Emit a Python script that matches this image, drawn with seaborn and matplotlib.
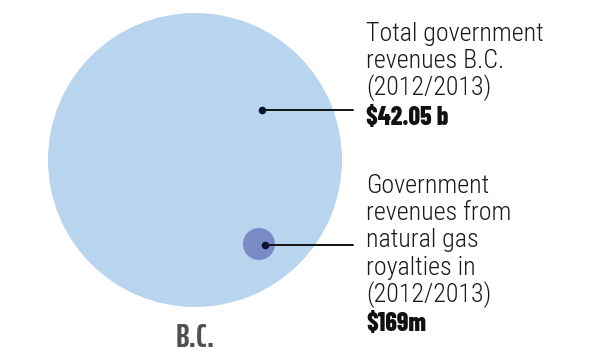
import numpy as np
import pandas as pd
import matplotlib
matplotlib.use("Agg")
import matplotlib.pyplot as plt
from matplotlib import font_manager as fm
import seaborn as sns

# data
region = "B.C."
series = ["Total government revenues", "Natural gas royalties"]
values_musd = [42050, 169]  # millions of dollars
value_labels = ["$42.05 b", "$169m"]
desc_lines = [
    ["Total government", "revenues B.C.", "(2012/2013)"],
    ["Government", "revenues from", "natural gas", "royalties in", "(2012/2013)"],
]

sns.set_theme(style="white")
names = {f.name for f in fm.fontManager.ttflist}


def pick(cands):
    for c in cands:
        if c in names:
            return c
    return "DejaVu Sans"


reg_font = pick(["Roboto Condensed", "Fira Sans Condensed", "Barlow Condensed", "IBM Plex Sans Condensed"])
bold_font = pick(["Barlow Condensed", "Fira Sans Extra Condensed", "Roboto Condensed"])
label_font = pick(["Saira ExtraCondensed", "Barlow Condensed", "Fira Sans Extra Condensed"])
plt.rcParams["font.family"] = [reg_font, "DejaVu Sans"]

# layout in pixel units (axes spans the whole figure)
cx = [195, 259]
cy = [160, 244]
dot_x = [262, 265]
dot_y = [110, 245]
line_end = 353
text_x = 366
first_base = [41, 193]
step = 27.2

df = pd.DataFrame({"series": series, "value": values_musd, "x": cx, "y": cy})

fig = plt.figure(figsize=(6, 3.6), dpi=100)
ax = fig.add_axes([0, 0, 1, 1])

# bubble diameters in points (1 px = 0.72 pt at 100 dpi)
big_s = (294 * 0.72) ** 2
small_s = (32 * 0.72) ** 2
sns.scatterplot(
    data=df, x="x", y="y", hue="series", size="value",
    sizes=(small_s, big_s), size_norm=(min(values_musd), max(values_musd)),
    palette=["#b9d4ef", "#7a8bc3"], linewidth=0, legend=False, ax=ax,
    zorder=1,
)

# leader dots and lines
for i in range(2):
    ax.plot([dot_x[i], line_end], [dot_y[i], dot_y[i]], color="#111111", lw=1.4, zorder=2)
sns.scatterplot(x=dot_x, y=dot_y, color="#0c1332", s=30, linewidth=0, ax=ax, zorder=3)

# annotations
for i in range(2):
    yb = first_base[i]
    for ln in desc_lines[i]:
        ax.text(text_x, yb, ln, fontsize=18.7, fontweight="light", color="#1a1a1a",
                va="baseline", ha="left")
        yb += step
    ax.text(text_x, yb + 2, value_labels[i], fontsize=18.5, fontweight="heavy",
            family=[bold_font, "DejaVu Sans"], color="#111111", va="baseline", ha="left")

ax.text(cx[0], 347, region, fontsize=24, fontweight="bold", family=[label_font, "DejaVu Sans"],
        color="#505050", va="baseline", ha="center")

ax.set_xlim(0, 600)
ax.set_ylim(360, 0)
ax.set_axis_off()
fig.savefig("out.png", dpi=100, facecolor="white")
